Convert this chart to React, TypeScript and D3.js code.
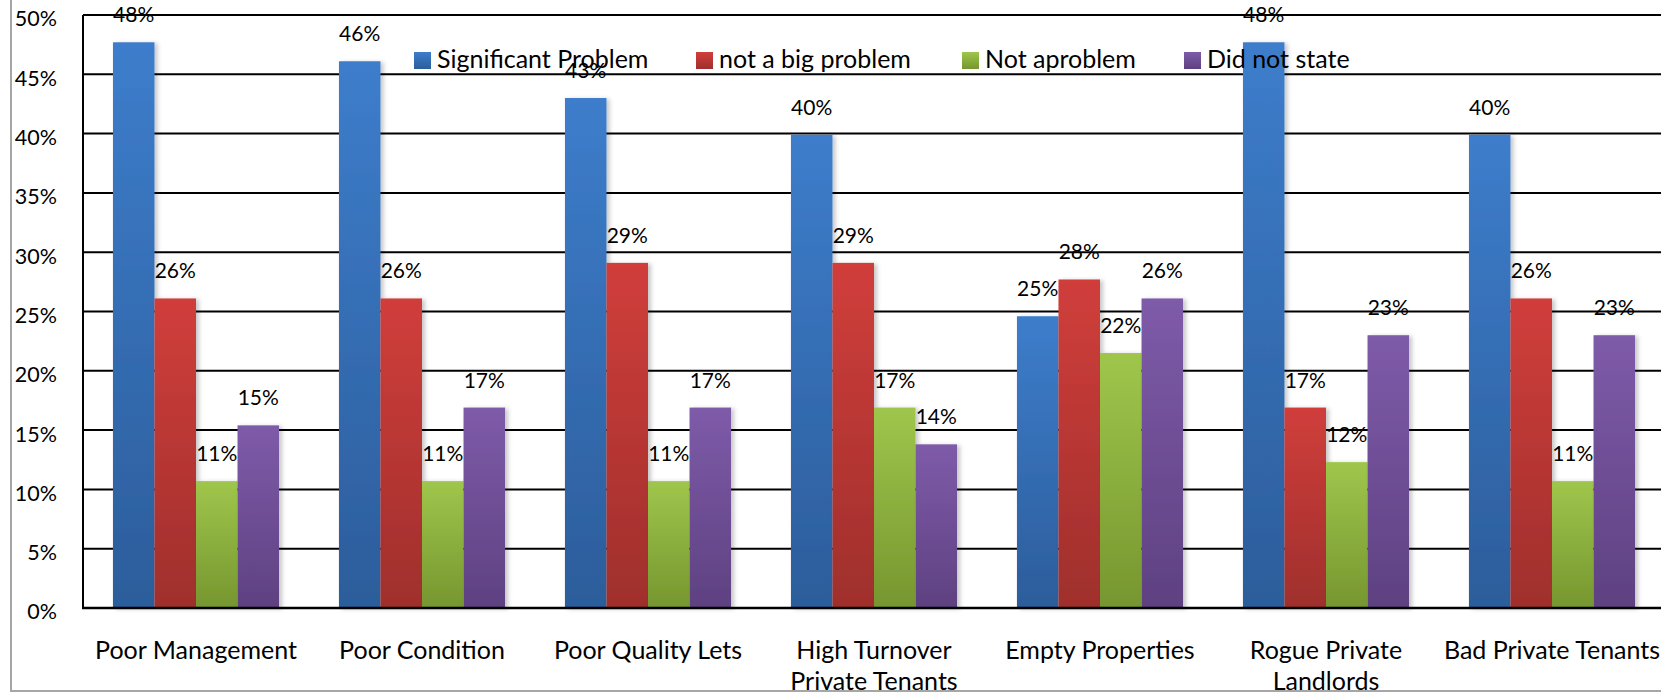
import * as d3 from "d3";

// Survey results: how big a problem each issue is (percent of respondents).
const CATEGORIES = [
  "Poor Management",
  "Poor Condition",
  "Poor Quality Lets",
  "High Turnover\nPrivate Tenants",
  "Empty Properties",
  "Rogue Private\nLandlords",
  "Bad Private Tenants",
];
const SERIES = ["Significant Problem", "not a big problem", "Not aproblem", "Did not state"];
const SIGNIFICANT = [47.7, 46.1, 43.0, 39.9, 24.6, 47.7, 39.9];
const NOT_BIG = [26.1, 26.1, 29.1, 29.1, 27.7, 16.9, 26.1];
const NOT_PROBLEM = [10.7, 10.7, 10.7, 16.9, 21.5, 12.3, 10.7];
const NOT_STATED = [15.4, 16.9, 16.9, 13.8, 26.1, 23.0, 23.0];
const Y_TICKS = [0, 5, 10, 15, 20, 25, 30, 35, 40, 45, 50];

const VALUES = [SIGNIFICANT, NOT_BIG, NOT_PROBLEM, NOT_STATED];
// gradient top / bottom per series
const COLORS = [
  ["#3d7dcb", "#2c5d9b"],
  ["#d03e3b", "#9f2f2c"],
  ["#9fc64c", "#76962f"],
  ["#7e5ba9", "#5e4181"],
];

const W = 1661;
const H = 696;
const FONT = "Lato, 'Open Sans', sans-serif";
const LEGEND_X = [414, 696, 962, 1184];

export default function App() {
  const x0 = d3
    .scaleBand<string>()
    .domain(CATEGORIES)
    .range([83, 1665])
    .paddingInner(0.265)
    .paddingOuter(0.1325);
  const x1 = d3
    .scaleBand<string>()
    .domain(SERIES)
    .range([0, x0.bandwidth()]);
  const y = d3.scaleLinear().domain([0, 50]).range([608, 15]);

  return (
    <svg
      width={W}
      height={H}
      style={{ position: "absolute", left: 0, top: 0, background: "#fff" }}
      fontFamily={FONT}
    >
      <defs>
        {COLORS.map((c, i) => (
          <linearGradient key={i} id={`g${i}`} x1="0" y1="0" x2="0" y2="1">
            <stop offset="0" stopColor={c[0]} />
            <stop offset="1" stopColor={c[1]} />
          </linearGradient>
        ))}
        <filter id="shadow" x="-20%" y="-5%" width="140%" height="110%">
          <feDropShadow dx="3" dy="1" stdDeviation="2" floodColor="#000" floodOpacity="0.22" />
        </filter>
      </defs>

      {/* gridlines */}
      {Y_TICKS.map((t) => (
        <line key={t} x1={83} x2={W} y1={y(t)} y2={y(t)} stroke="#000" strokeWidth={2} />
      ))}
      {/* y tick labels */}
      {Y_TICKS.map((t) => (
        <text
          key={t}
          x={57}
          y={y(t) + 6}
          textAnchor="end"
          dominantBaseline="middle"
          fontSize={21.5}
          fill="#000"
        >
          {t}%
        </text>
      ))}

      {/* bars */}
      {CATEGORIES.map((cat, ci) => (
        <g key={cat} transform={`translate(${x0(cat)},0)`}>
          {SERIES.map((s, si) => {
            const v = VALUES[si][ci];
            return (
              <rect
                key={s}
                x={x1(s)}
                y={y(v)}
                width={x1.bandwidth()}
                height={y(0) - y(v)}
                fill={`url(#g${si})`}
                filter="url(#shadow)"
              />
            );
          })}
        </g>
      ))}

      {/* axes */}
      <line x1={83} x2={83} y1={y(50)} y2={y(0)} stroke="#000" strokeWidth={2} />
      <line x1={82} x2={W} y1={y(0)} y2={y(0)} stroke="#000" strokeWidth={2.5} />

      {/* data labels */}
      {CATEGORIES.map((cat, ci) =>
        SERIES.map((s, si) => {
          const v = VALUES[si][ci];
          return (
            <text
              key={cat + s}
              x={(x0(cat) ?? 0) + (x1(s) ?? 0) + x1.bandwidth() / 2}
              y={y(v) - 20}
              textAnchor="middle"
              fontSize={21}
              fill="#000"
            >
              {Math.round(v)}%
            </text>
          );
        })
      )}

      {/* category labels */}
      {CATEGORIES.map((cat) =>
        cat.split("\n").map((line, li) => (
          <text
            key={cat + li}
            x={(x0(cat) ?? 0) + x0.bandwidth() / 2}
            y={659 + li * 31}
            textAnchor="middle"
            fontSize={25}
            fill="#000"
          >
            {line}
          </text>
        ))
      )}

      {/* legend */}
      {SERIES.map((s, si) => (
        <g key={s} transform={`translate(${LEGEND_X[si]},0)`}>
          <rect x={0} y={52} width={17} height={17} fill={`url(#g${si})`} />
          <text x={23} y={68} fontSize={25} fill="#000">
            {s}
          </text>
        </g>
      ))}

      {/* outer chart border */}
      <rect x={11} y={-20} width={W + 40} height={711} fill="none" stroke="#a6a6a6" strokeWidth={2} />
    </svg>
  );
}
